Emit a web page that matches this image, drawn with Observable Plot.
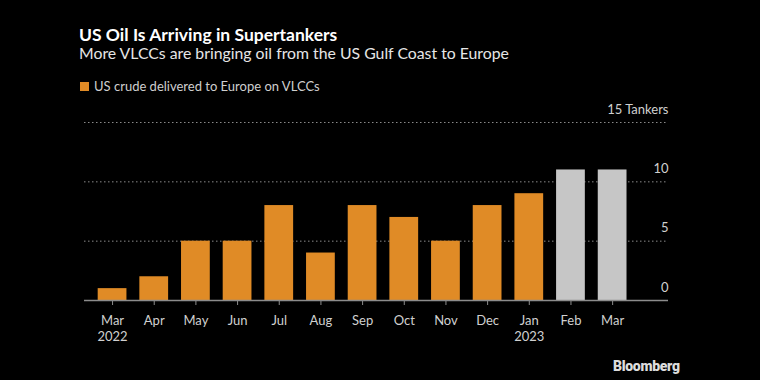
<!DOCTYPE html>
<html>
<head>
<meta charset="utf-8">
<script src="https://cdn.jsdelivr.net/npm/d3@7"></script>
<script src="https://cdn.jsdelivr.net/npm/@observablehq/plot@0.6"></script>
<style>
  html, body { margin: 0; padding: 0; background: #000; }
  #wrap { position: relative; width: 760px; height: 380px; background: #000; font-family: Lato, "Noto Sans", sans-serif; overflow: hidden; }
  .abs { position: absolute; white-space: nowrap; line-height: 1; }
  #title { left: 79px; top: 26px; font-size: 17.5px; font-weight: 700; color: #fff; }
  #subtitle { left: 79px; top: 45px; font-size: 15.8px; color: #e6e6e6; }
  #legend { left: 80px; top: 80px; font-size: 13px; color: #cfcfcf; display: flex; align-items: center; }
  #legend .sw { width: 9px; height: 9px; background: #e08b26; margin-right: 5px; display: inline-block; }
  #logo { left: 613px; top: 359px; font-size: 14px; font-weight: 900; color: #dcdcdc; letter-spacing: -0.3px; font-family: Roboto, Lato, sans-serif; }
  #chart { position: absolute; left: 0; top: 0; }
</style>
</head>
<body>
<div id="wrap">
  <div id="chart"></div>
  <div class="abs" id="title">US Oil Is Arriving in Supertankers</div>
  <div class="abs" id="subtitle">More VLCCs are bringing oil from the US Gulf Coast to Europe</div>
  <div class="abs" id="legend"><span class="sw"></span>US crude delivered to Europe on VLCCs</div>
  <div class="abs" id="logo">Bloomberg</div>
</div>
<script>
const months = ["Mar","Apr","May","Jun","Jul","Aug","Sep","Oct","Nov","Dec","Jan","Feb","Mar"];
const years  = ["2022","","","","","","","","","","2023","",""];
const tankers = [1, 2, 5, 5, 8, 4, 8, 7, 5, 8, 9, 11, 11];
const projected = [false,false,false,false,false,false,false,false,false,false,false,true,true];
const yTicks = [0, 5, 10, 15];
const yTickLabels = ["0", "5", "10", "15 Tankers"];

const data = tankers.map((v, i) => ({i, v, p: projected[i]}));
const ticks = yTicks.map((t, k) => ({t, label: yTickLabels[k]}));

const chart = Plot.plot({
  width: 760,
  height: 380,
  marginTop: 122,
  marginBottom: 80,
  marginLeft: 84,
  marginRight: 92,
  style: {background: "transparent", fontFamily: "Lato, 'Noto Sans', sans-serif"},
  x: {domain: d3.range(months.length), paddingInner: 0.31, paddingOuter: 0.662, align: 0.248, round: false, label: null},
  y: {domain: [0, 15], label: null},
  marks: [
    Plot.ruleY(yTicks.filter(t => t > 0), {stroke: "#8a8a8a", strokeDasharray: "1.5,2.5", strokeWidth: 1}),
    Plot.barY(data, {x: "i", y: "v", fill: d => d.p ? "#c6c6c6" : "#e08b26"}),
    Plot.ruleY([0], {stroke: "#8c8c8c", strokeWidth: 1.5}),
    Plot.text(ticks, {y: "t", text: "label", frameAnchor: "right", textAnchor: "end", dy: -13, fill: "#d0d0d0", fontSize: 13}),
    Plot.axisX({
      tickSize: 5,
      tickPadding: 7,
      stroke: "#8c8c8c",
      fill: "#d0d0d0",
      fontSize: 13,
      lineHeight: 1.3,
      tickFormat: i => years[i] ? months[i] + "\n" + years[i] : months[i]
    }),
    Plot.axisY({ticks: [], label: null})
  ]
});
document.getElementById("chart").appendChild(chart);
</script>
</body>
</html>
